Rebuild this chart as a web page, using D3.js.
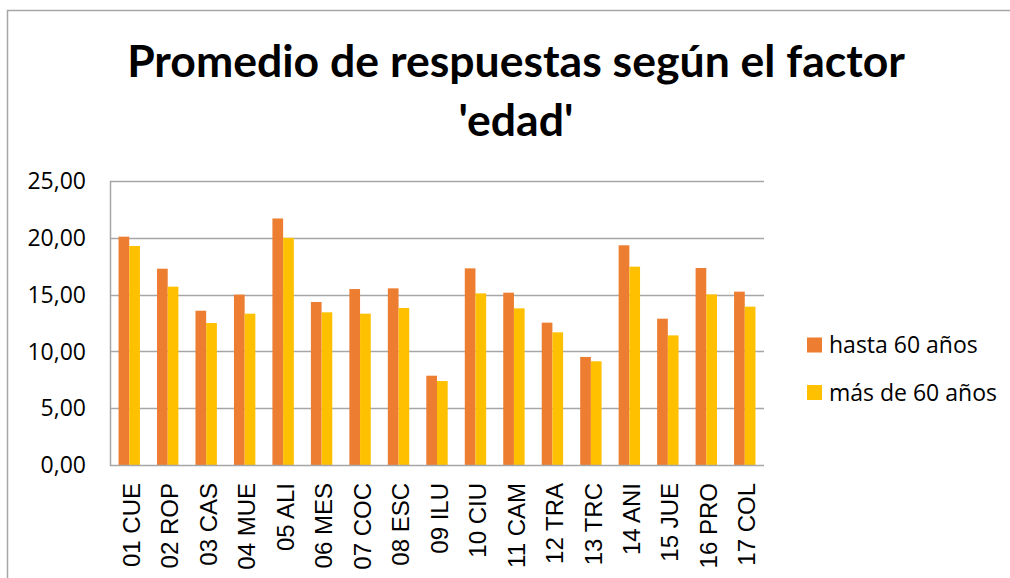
<!DOCTYPE html>
<html>
<head>
<meta charset="utf-8">
<script src="https://cdn.jsdelivr.net/npm/d3@7"></script>
<style>
  html, body { margin: 0; padding: 0; background: #fff; }
  svg { display: block; }
</style>
</head>
<body>
<svg id="chart" width="1010" height="578"></svg>
<script>
const categories = ["01 CUE","02 ROP","03 CAS","04 MUE","05 ALI","06 MES","07 COC","08 ESC","09 ILU","10 CIU","11 CAM","12 TRA","13 TRC","14 ANI","15 JUE","16 PRO","17 COL"];
const seriesNames = ["hasta 60 años", "más de 60 años"];
const hasta60 = [20.10, 17.28, 13.58, 15.00, 21.70, 14.35, 15.49, 15.55, 7.86, 17.31, 15.17, 12.53, 9.51, 19.34, 12.88, 17.34, 15.26];
const mas60   = [19.28, 15.70, 12.50, 13.32, 20.00, 13.44, 13.32, 13.82, 7.39, 15.11, 13.79, 11.68, 9.13, 17.46, 11.41, 15.02, 13.94];
const yTicks = [0, 5, 10, 15, 20, 25];
const titleLines = ["Promedio de respuestas según el factor", "'edad'"];
const colors = ["#ED7D31", "#FFC000"];

const svg = d3.select("#chart");
const plot = { left: 110, right: 764, top: 181, bottom: 465 };

// chart frame
svg.append("path")
  .attr("d", "M7.5,578 L7.5,10.5 L1010,10.5")
  .attr("fill", "none").attr("stroke", "#a6a6a6").attr("stroke-width", 1.5);

// title
const title = svg.append("text")
  .attr("font-family", "Lato, 'Open Sans', sans-serif")
  .attr("font-weight", "bold")
  .attr("text-anchor", "middle")
  .attr("fill", "#000");
title.append("tspan").attr("x", 516).attr("y", 77).text(titleLines[0]);
title.append("tspan").attr("x", 516).attr("y", 136).text(titleLines[1]);
title.attr("font-size", 40);
const w0 = title.select("tspan").node().getComputedTextLength();
title.attr("font-size", 40 * 778 / w0);

const y = d3.scaleLinear().domain([0, 25]).range([plot.bottom, plot.top]);
const x = d3.scaleBand().domain(categories).range([plot.left, plot.right])
  .paddingInner(0.444).paddingOuter(0.222);
const xs = d3.scaleBand().domain(seriesNames).range([0, x.bandwidth()]);

// gridlines
svg.append("g").selectAll("line").data(yTicks.filter(d => d > 0)).join("line")
  .attr("x1", plot.left).attr("x2", plot.right)
  .attr("y1", d => Math.round(y(d)) + 0.5).attr("y2", d => Math.round(y(d)) + 0.5)
  .attr("stroke", "#a6a6a6").attr("stroke-width", 1.5);

// bars
const series = [hasta60, mas60];
series.forEach((vals, si) => {
  svg.append("g").selectAll("rect").data(vals).join("rect")
    .attr("x", (d, i) => x(categories[i]) + xs(seriesNames[si]))
    .attr("width", xs.bandwidth())
    .attr("y", d => y(d))
    .attr("height", d => y(0) - y(d))
    .attr("fill", colors[si]);
});

// axes lines
svg.append("path")
  .attr("d", `M${plot.left + 0.5},${plot.top} L${plot.left + 0.5},${Math.round(y(0)) + 0.5} L${plot.right},${Math.round(y(0)) + 0.5}`)
  .attr("fill", "none").attr("stroke", "#a6a6a6").attr("stroke-width", 1.5);

// y tick labels
const fmt = v => d3.format(".2f")(v).replace(".", ",");
svg.append("g").selectAll("text").data(yTicks).join("text")
  .attr("x", 86).attr("y", d => y(d)).attr("dy", "0.36em")
  .attr("text-anchor", "end")
  .attr("font-family", "'Open Sans', sans-serif").attr("font-size", 23)
  .attr("fill", "#000")
  .text(fmt);

// x labels
svg.append("g").selectAll("text").data(categories).join("text")
  .attr("transform", d => `translate(${x(d) + x.bandwidth() / 2 + 2},483) rotate(-90)`)
  .attr("dy", "0.36em")
  .attr("text-anchor", "end")
  .attr("font-family", "'Liberation Sans', Arial, sans-serif").attr("font-size", 24)
  .attr("fill", "#000")
  .text(d => d);

// legend
const lg = svg.append("g");
seriesNames.forEach((name, i) => {
  const cy = 345 + i * 47.5;
  lg.append("rect").attr("x", 807).attr("y", cy - 7.5).attr("width", 15).attr("height", 15).attr("fill", colors[i]);
  lg.append("text").attr("x", 829).attr("y", cy).attr("dy", "0.36em")
    .attr("font-family", "'Open Sans', sans-serif").attr("font-size", 23)
    .attr("fill", "#000").text(name);
});
</script>
</body>
</html>
